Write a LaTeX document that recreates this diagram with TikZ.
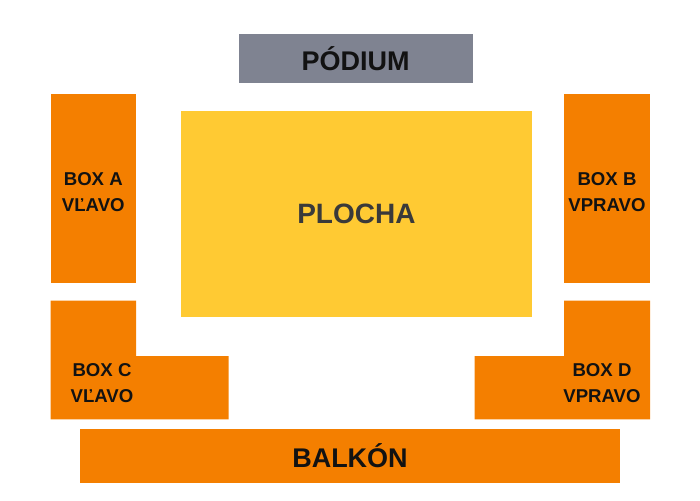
\documentclass[tikz,border=0pt]{standalone}
\usepackage{fontspec}
\setmainfont{Liberation Sans}
\usetikzlibrary{positioning}
\definecolor{podiumgray}{RGB}{127,131,145}
\definecolor{boxorange}{RGB}{244,127,0}
\definecolor{floryellow}{RGB}{255,202,51}
\definecolor{labeldark}{RGB}{18,18,18}
\definecolor{floordark}{RGB}{58,58,58}

\begin{document}
\begin{tikzpicture}[x=1pt, y=-1pt,
    area/.style={inner sep=0pt, outer sep=0pt, text=labeldark, font=\bfseries\fontsize{27}{30}\selectfont},
    boxlabel/.style={align=center, inner sep=0pt, text=labeldark, font=\bfseries\fontsize{18.6}{26}\selectfont}]
    \useasboundingbox (0,0) rectangle (700,500);
    % Stage and floor
    \node[area, fill=podiumgray, minimum width=234pt, minimum height=49pt] (podium) at (355.7,58.6) {PÓDIUM};
    \node[area, fill=floryellow, text=floordark, minimum width=351pt, minimum height=206pt, font=\bfseries\fontsize{28}{32}\selectfont] (plocha) at (356.4,213.8) {PLOCHA};
    
    % Side boxes
    \node[area, fill=boxorange, minimum width=85.3pt, minimum height=188.7pt] (boxa) at (93.3,188.3) {};
    \node[area, fill=boxorange, minimum width=86pt, minimum height=188.7pt] (boxb) at (607,188.3) {};
    \node[boxlabel] (boxalabel) at (93.3,192.5) {BOX A\\VĽAVO};
    \node[boxlabel] (boxblabel) at (607,192.5) {BOX B\\VPRAVO};
    
    % Corner boxes (L shapes)
    \fill[boxorange] (50.7,300.7) -- (136,300.7) -- (136,356) -- (228.7,356) -- (228.7,419.3) -- (50.7,419.3) -- cycle;
    \fill[boxorange] (650,300.7) -- (564,300.7) -- (564,356) -- (474.7,356) -- (474.7,419.3) -- (650,419.3) -- cycle;
    \node[boxlabel] (boxclabel) at (102,383.4) {BOX C\\VĽAVO};
    \node[boxlabel] (boxdlabel) at (602,383.4) {BOX D\\VPRAVO};
    
    % Balcony
    \node[area, fill=boxorange, minimum width=540pt, minimum height=53.4pt] (balkon) at (350,456) {BALKÓN};
\end{tikzpicture}
\end{document}
